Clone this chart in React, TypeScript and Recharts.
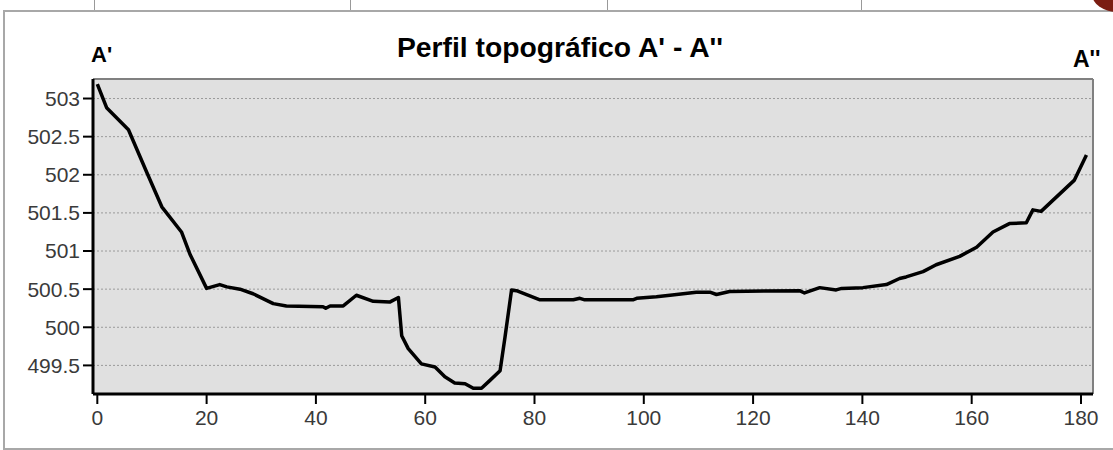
import {
  CartesianGrid,
  Line,
  LineChart,
  ReferenceLine,
  XAxis,
  YAxis,
} from "recharts";

const distancia = [
  0, 1.7, 5.7, 6.6, 9.0, 11.8, 15.4, 17.0, 20.0, 22.4, 23.7, 26.1, 28.5, 32.2,
  34.6, 41.3, 41.8, 42.6, 45.0, 47.4, 50.5, 53.5, 55.1, 55.7, 56.9, 59.3, 61.8,
  63.6, 65.4, 67.3, 68.8, 70.3, 71.8, 73.7, 74.6, 75.8, 76.7, 81.0, 87.1, 88.3,
  89.2, 98.0, 98.7, 102.3, 104.8, 109.6, 112.1, 113.3, 115.7, 128.5, 129.4,
  132.2, 135.2, 136.2, 140.1, 144.4, 146.8, 148.0, 151.1, 153.5, 157.8, 160.9,
  163.9, 166.9, 170.0, 171.2, 172.7, 178.8, 181.0,
];

const cota = [
  503.19, 502.88, 502.59, 502.44, 502.04, 501.58, 501.25, 500.95, 500.51,
  500.56, 500.53, 500.5, 500.44, 500.31, 500.28, 500.27, 500.25, 500.28, 500.28,
  500.42, 500.34, 500.33, 500.39, 499.89, 499.72, 499.52, 499.48, 499.35,
  499.27, 499.26, 499.2, 499.2, 499.3, 499.43, 499.87, 500.49, 500.48, 500.36,
  500.36, 500.38, 500.36, 500.36, 500.38, 500.4, 500.42, 500.46, 500.46, 500.43,
  500.47, 500.48, 500.45, 500.52, 500.49, 500.51, 500.52, 500.56, 500.64,
  500.66, 500.73, 500.82, 500.93, 501.05, 501.25, 501.36, 501.37, 501.54,
  501.52, 501.93, 502.26,
];

const xTicks = [0, 20, 40, 60, 80, 100, 120, 140, 160, 180];
const yTicks = [499.5, 500, 500.5, 501, 501.5, 502, 502.5, 503];

const xDomain: [number, number] = [-0.79, 182.2];
const yDomain: [number, number] = [499.125, 503.256];

const titulo = "Perfil topográfico A' - A''";
const inicio = "A'";
const fin = "A''";

const data = distancia.map((d, i) => ({ d, z: cota[i] }));

const FONT = '"Liberation Sans", Arial, sans-serif';
const tickStyle = { fontSize: 21, fill: "#3a3a3a", fontFamily: FONT };

export default function App() {
  return (
    <div
      style={{
        position: "absolute",
        left: 0,
        top: 0,
        width: 1113,
        height: 450,
        background: "#fff",
        overflow: "hidden",
      }}
    >
      {/* restos de la tabla por encima del gráfico */}
      {[94, 350, 607, 861].map((x) => (
        <div key={x} style={{ position: "absolute", left: x, top: 0, width: 1, height: 10, background: "#999" }} />
      ))}
      <div
        style={{
          position: "absolute",
          left: 3,
          top: 10,
          width: 1130,
          height: 436,
          border: "2px solid #a8a8a8",
        }}
      />
      <div style={{ position: "absolute", left: 0, top: 0 }}>
        <LineChart
          width={1113}
          height={450}
          data={data}
          margin={{ top: 79, right: 20, left: 0, bottom: 0 }}
        >
          <CartesianGrid
            vertical={false}
            fill="#e0e0e0"
            stroke="#9a9a9a"
            strokeDasharray="2 2"
          />
          <ReferenceLine y={yDomain[1]} stroke="#808080" strokeWidth={2} />
          <ReferenceLine x={xDomain[1]} stroke="#808080" strokeWidth={2} />
          <XAxis
            dataKey="d"
            type="number"
            domain={xDomain}
            allowDataOverflow
            ticks={xTicks}
            height={56}
            tickSize={10}
            tickMargin={6}
            tick={tickStyle}
            axisLine={{ stroke: "#000", strokeWidth: 3 }}
            tickLine={{ stroke: "#000", strokeWidth: 2 }}
          />
          <YAxis
            type="number"
            domain={yDomain}
            allowDataOverflow
            ticks={yTicks}
            width={93}
            tickSize={10}
            tickMargin={3}
            tick={tickStyle}
            axisLine={{ stroke: "#000", strokeWidth: 3 }}
            tickLine={{ stroke: "#000", strokeWidth: 2 }}
          />
          <Line
            dataKey="z"
            type="linear"
            stroke="#000"
            strokeWidth={3.5}
            strokeLinejoin="round"
            dot={false}
            isAnimationActive={false}
          />
        </LineChart>
      </div>
      <svg
        width={1113}
        height={450}
        style={{ position: "absolute", left: 0, top: 0, pointerEvents: "none" }}
      >
        <ellipse cx={1118} cy={-6} rx={26} ry={18} fill="#7b1d12" />
        <text
          x={397}
          y={57}
          fontSize={27}
          fontWeight="bold"
          fontFamily={FONT}
          textLength={326}
          lengthAdjust="spacingAndGlyphs"
          fill="#000"
        >
          {titulo}
        </text>
        <text x={91} y={62} fontSize={22} fontWeight="bold" fontFamily={FONT} fill="#000">
          {inicio}
        </text>
        <text x={1073} y={66.5} fontSize={23} fontWeight="bold" fontFamily={FONT} fill="#000">
          {fin}
        </text>
      </svg>
    </div>
  );
}
